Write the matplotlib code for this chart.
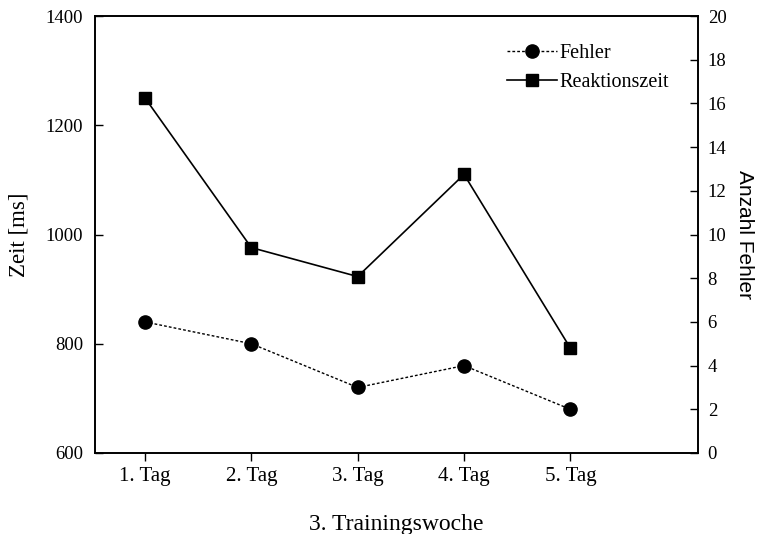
import matplotlib
matplotlib.use("Agg")
import matplotlib.pyplot as plt

# data
tage = ["1. Tag", "2. Tag", "3. Tag", "4. Tag", "5. Tag"]
reaktionszeit = [1250, 976, 923, 1110, 792]
fehler = [6, 5, 3, 4, 2]

plt.rcParams['font.family'] = ['Liberation Serif', 'DejaVu Serif']

fig = plt.figure(figsize=(7.62, 5.34), dpi=100)
ax = fig.add_axes([0.1247, 0.1517, 0.7913, 0.8183])
ax2 = ax.twinx()

x = list(range(1, len(tage) + 1))
l2, = ax2.plot(x, fehler, color='black', linestyle=(0, (2, 1.5)), linewidth=1.0,
               marker='o', markersize=9.5, label='Fehler')
l1, = ax.plot(x, reaktionszeit, color='black', linestyle='-', linewidth=1.2,
              marker='s', markersize=8.5, label='Reaktionszeit')

ax.set_xlim(0.53, 6.2)
ax.set_ylim(600, 1400)
ax.set_yticks([600, 800, 1000, 1200, 1400])
ax2.set_ylim(0, 20)
ax2.set_yticks(range(0, 21, 2))
ax.set_xticks(x)
ax.set_xticklabels(tage)

# y ticks point inwards, x ticks outwards
ax.tick_params(axis='y', direction='in', length=6, width=1.0, pad=8.5, labelsize=13.5)
ax2.tick_params(axis='y', direction='in', length=6, width=1.0, pad=7, labelsize=13.5)
ax.tick_params(axis='x', direction='out', length=6, width=1.0, pad=4, labelsize=15)
for a in (ax, ax2):
    for s in a.spines.values():
        s.set_linewidth(1.2)

ax.set_xlabel("3. Trainingswoche", fontsize=17, labelpad=20)
ax.set_ylabel("Zeit [ms]", fontsize=16.5, labelpad=12)
ax2.set_ylabel("Anzahl Fehler", fontsize=15, rotation=270, labelpad=20,
               family=['Liberation Sans', 'DejaVu Sans'])

leg = ax2.legend([l2, l1], ['Fehler', 'Reaktionszeit'], loc='upper right',
                 bbox_to_anchor=(0.975, 0.968), frameon=False, fontsize=14.5,
                 handlelength=2.5, handletextpad=0.12, labelspacing=0.5,
                 borderpad=0.2)

fig.savefig("out.png", dpi=100)
